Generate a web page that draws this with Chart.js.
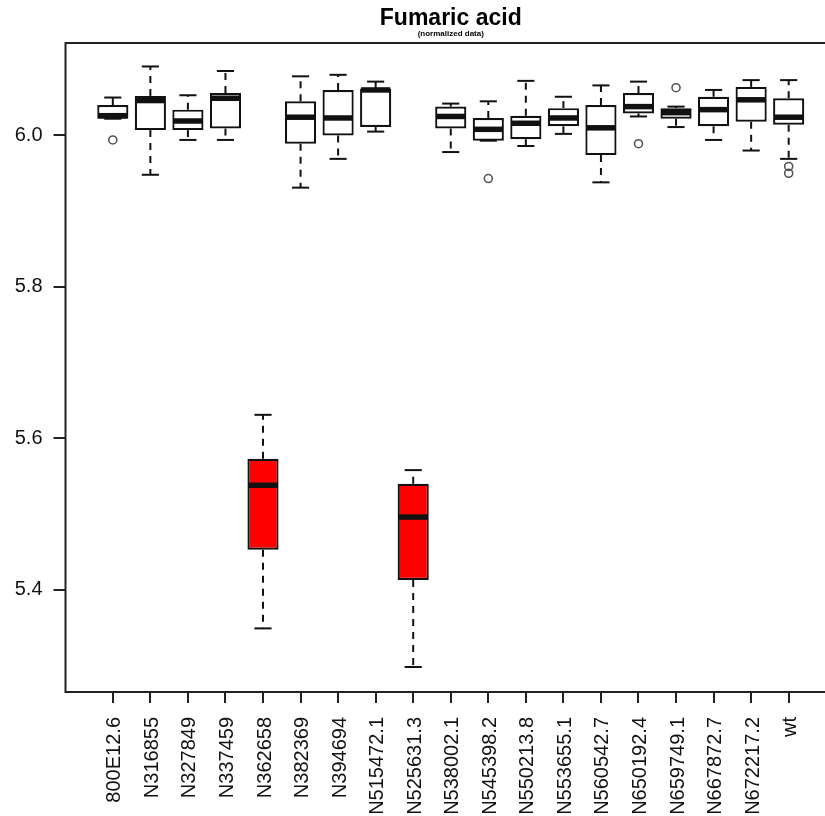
<!DOCTYPE html>
<html>
<head>
<meta charset="utf-8">
<title>Fumaric acid</title>
<script src="https://cdn.jsdelivr.net/npm/chart.js@4.4.1/dist/chart.umd.min.js"></script>
<style>
  html, body { margin: 0; padding: 0; background: #fff; overflow: hidden; }
  canvas { display: block; }
</style>
</head>
<body>
<canvas id="boxChart" width="850" height="816"></canvas>
<script>
// Strains on the x axis
const categories = ['800E12.6', 'N316855', 'N327849', 'N337459', 'N362658', 'N382369', 'N394694',
  'N515472.1', 'N525631.3', 'N538002.1', 'N545398.2', 'N550213.8', 'N553655.1', 'N560542.7',
  'N650192.4', 'N659749.1', 'N667872.7', 'N672217.2', 'wt'];

// Five-number summaries per strain
const lowerWhisker = [6.022, 5.948, 5.994, 5.994, 5.349, 5.931, 5.969, 6.005, 5.298, 5.978,
  5.993, 5.986, 6.002, 5.938, 6.025, 6.011, 5.994, 5.980, 5.969];
const q1 = [6.022, 6.007, 6.007, 6.009, 5.453, 5.989, 6.000, 6.011, 5.413, 6.009,
  5.993, 5.995, 6.012, 5.974, 6.029, 6.022, 6.012, 6.018, 6.014];
const median = [6.026, 6.046, 6.019, 6.049, 5.538, 6.024, 6.023, 6.060, 5.496, 6.025,
  6.008, 6.016, 6.023, 6.010, 6.038, 6.030, 6.034, 6.047, 6.024];
const q3 = [6.040, 6.052, 6.034, 6.056, 5.573, 6.045, 6.060, 6.062, 5.540, 6.038,
  6.023, 6.026, 6.036, 6.040, 6.056, 6.036, 6.051, 6.064, 6.049];
const upperWhisker = [6.050, 6.091, 6.053, 6.085, 5.631, 6.078, 6.080, 6.071, 5.558, 6.042,
  6.045, 6.072, 6.051, 6.066, 6.071, 6.038, 6.060, 6.073, 6.073];

// Outlying points: strain index and value
const outlierIdx = [0, 10, 14, 15, 18, 18];
const outlierVal = [5.994, 5.943, 5.989, 6.063, 5.959, 5.950];

// Strains flagged as significantly different
const highlighted = ['N362658', 'N525631.3'];

const yTicks = [5.4, 5.6, 5.8, 6.0];

const FONT = "'Liberation Sans', Arial, Helvetica, sans-serif";
const INK = '#111';

// Whiskers, staples, medians, frame and title
const boxExtras = {
  id: 'boxExtras',
  beforeDraw(chart) {
    const { ctx } = chart;
    ctx.save();
    ctx.fillStyle = '#fff';
    ctx.fillRect(0, 0, chart.width, chart.height);
    ctx.restore();
  },
  afterDatasetsDraw(chart) {
    const { ctx, chartArea, scales: { y } } = chart;
    const bars = chart.getDatasetMeta(0).data;
    const seg = (x1, y1, x2, y2) => {
      ctx.beginPath();
      ctx.moveTo(x1, y1);
      ctx.lineTo(x2, y2);
      ctx.stroke();
    };
    ctx.save();
    ctx.strokeStyle = INK;
    bars.forEach((bar, i) => {
      const cx = bar.x;
      const half = bar.width / 2;
      const cap = half * 0.55;
      const yHi = y.getPixelForValue(upperWhisker[i]);
      const yLo = y.getPixelForValue(lowerWhisker[i]);
      const yQ3 = y.getPixelForValue(q3[i]);
      const yQ1 = y.getPixelForValue(q1[i]);

      ctx.lineWidth = 2;
      ctx.setLineDash([7, 6]);
      seg(cx, yQ3, cx, yHi);
      seg(cx, yQ1, cx, yLo);
      ctx.setLineDash([]);
      seg(cx - cap, yHi, cx + cap, yHi);
      seg(cx - cap, yLo, cx + cap, yLo);

      ctx.lineWidth = 5.5;
      const yMed = y.getPixelForValue(median[i]);
      seg(cx - half + 1, yMed, cx + half - 1, yMed);
    });

    // plot frame
    ctx.lineWidth = 2;
    ctx.strokeStyle = '#222';
    ctx.strokeRect(chartArea.left, chartArea.top, chartArea.right - chartArea.left, chartArea.bottom - chartArea.top);

    // title and subtitle centred over the plot region
    const mid = (chartArea.left + chartArea.right) / 2;
    ctx.fillStyle = '#000';
    ctx.textAlign = 'center';
    ctx.textBaseline = 'alphabetic';
    ctx.font = 'bold 23px ' + FONT;
    ctx.fillText('Fumaric acid', mid, 25);
    ctx.font = 'bold 8px ' + FONT;
    ctx.fillText('(normalized data)', mid, 36);
    ctx.restore();
  }
};

const ctx = document.getElementById('boxChart').getContext('2d');
new Chart(ctx, {
  type: 'bar',
  data: {
    datasets: [
      {
        label: 'IQR',
        data: categories.map((c, i) => ({ x: i + 1, y: [q1[i], q3[i]] })),
        backgroundColor: categories.map(c => highlighted.includes(c) ? '#ff0000' : '#ffffff'),
        borderColor: INK,
        borderWidth: 2.2,
        borderSkipped: false,
        barPercentage: 0.83,
        categoryPercentage: 1.0
      },
      {
        type: 'scatter',
        label: 'outliers',
        data: outlierIdx.map((k, j) => ({ x: k + 1, y: outlierVal[j] })),
        pointRadius: 4,
        pointStyle: 'circle',
        borderColor: '#555',
        borderWidth: 1.6,
        backgroundColor: 'rgba(0,0,0,0)'
      }
    ]
  },
  options: {
    responsive: false,
    animation: false,
    layout: { padding: { top: 43, right: 14, left: 0, bottom: 0 } },
    plugins: {
      legend: { display: false },
      tooltip: { enabled: false }
    },
    scales: {
      x: {
        type: 'linear',
        offset: false,
        min: -0.26,
        max: 20.26,
        afterBuildTicks: axis => { axis.ticks = categories.map((c, i) => ({ value: i + 1 })); },
        afterFit: axis => { axis.height = 124; },
        grid: { offset: false, drawOnChartArea: false, drawTicks: true, tickLength: 11, color: '#222', lineWidth: 2 },
        border: { display: false },
        ticks: {
          autoSkip: false,
          minRotation: 90,
          maxRotation: 90,
          padding: 14,
          labelOffset: 2,
          color: INK,
          font: { family: FONT, size: 20 },
          callback: v => categories[v - 1]
        }
      },
      y: {
        min: 5.265,
        max: 6.122,
        afterBuildTicks: axis => { axis.ticks = yTicks.map(v => ({ value: v })); },
        afterFit: axis => { axis.width = 65.5; },
        grid: { drawOnChartArea: false, drawTicks: true, tickLength: 12, color: '#222', lineWidth: 2 },
        border: { display: false },
        ticks: {
          padding: 11,
          color: INK,
          font: { family: FONT, size: 20 },
          callback: v => v.toFixed(1)
        }
      }
    }
  },
  plugins: [boxExtras]
});
</script>
</body>
</html>
